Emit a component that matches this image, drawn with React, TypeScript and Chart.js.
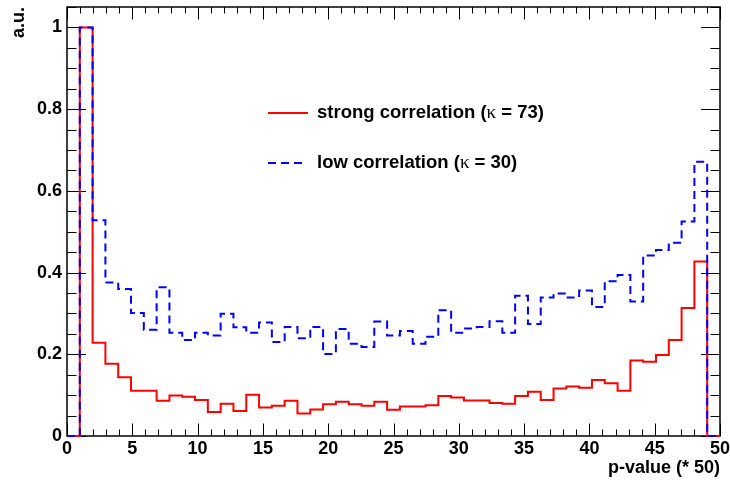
import { useEffect, useRef } from 'react';
import { Chart, registerables } from 'chart.js';

Chart.register(...registerables);

// ---- data ----
const X_MIN = 0;
const X_MAX = 50;
const N_BINS = 51;
const Y_MIN = 0;
const Y_MAX = 1.05;

// bin contents, bins 0..50 of width 50/51
const strongCorrelation = [
  0, 1.0, 0.228, 0.177, 0.144, 0.111, 0.111, 0.086, 0.099, 0.096,
  0.088, 0.059, 0.079, 0.061, 0.101, 0.070, 0.074, 0.086, 0.055, 0.065,
  0.078, 0.084, 0.078, 0.074, 0.084, 0.064, 0.072, 0.072, 0.075, 0.098,
  0.094, 0.087, 0.087, 0.081, 0.079, 0.098, 0.108, 0.088, 0.116, 0.121,
  0.118, 0.137, 0.129, 0.111, 0.185, 0.182, 0.198, 0.235, 0.313, 0.427,
  0,
];

const lowCorrelation = [
  0, 1.0, 0.528, 0.376, 0.360, 0.301, 0.260, 0.364, 0.253, 0.235,
  0.253, 0.246, 0.299, 0.266, 0.253, 0.278, 0.230, 0.267, 0.239, 0.267,
  0.201, 0.262, 0.226, 0.218, 0.280, 0.246, 0.257, 0.226, 0.243, 0.308,
  0.253, 0.263, 0.267, 0.281, 0.253, 0.343, 0.274, 0.339, 0.349, 0.339,
  0.356, 0.316, 0.379, 0.394, 0.329, 0.442, 0.455, 0.473, 0.525, 0.671,
  0,
];

const xMajorTicks = [0, 5, 10, 15, 20, 25, 30, 35, 40, 45, 50];
const yMajorTicks = [0, 0.2, 0.4, 0.6, 0.8, 1];
const X_MINOR_STEP = 1;
const Y_MINOR_STEP = 0.05;

const strongLabel = ['strong correlation (', '\u03ba', ' = 73)'];
const lowLabel = ['low correlation (', '\u03ba', ' = 30)'];
const xTitle = 'p-value (* 50)';
const yTitle = 'a.u.';

// ---- styles ----
const FAMILY = "'Liberation Sans', Arial, Helvetica, sans-serif";
const LABEL_FONT = { family: FAMILY, size: 18, weight: 'bold' as const };
const LEGEND_FONT = `bold 18.5px ${FAMILY}`;
const KAPPA_FONT = `19px 'Liberation Serif', 'DejaVu Serif', serif`;
const RED = '#ff0000';
const BLUE = '#0000ff';

function toSteps(values: number[]) {
  const w = (X_MAX - X_MIN) / N_BINS;
  const pts = values.map((v, i) => ({ x: X_MIN + i * w, y: v }));
  pts.push({ x: X_MAX, y: values[values.length - 1] });
  return pts;
}

const fmt = (v: number | string) => String(Number(Number(v).toFixed(2)));

const framePlugin = {
  id: 'rootFrame',
  beforeDatasetsDraw(chart: any) {
    const { ctx, chartArea } = chart;
    const { left, right, top, bottom } = chartArea;
    const xs = chart.scales.x;
    const ys = chart.scales.y;
    ctx.save();
    ctx.strokeStyle = '#000';
    ctx.lineWidth = 1;
    ctx.beginPath();
    // x ticks (bottom & top)
    const nx = Math.round((X_MAX - X_MIN) / X_MINOR_STEP);
    for (let i = 0; i <= nx; i++) {
      const v = X_MIN + i * X_MINOR_STEP;
      const major = xMajorTicks.some((t) => Math.abs(t - v) < 1e-9);
      const len = major ? 12.5 : 6.5;
      const px = Math.round(xs.getPixelForValue(v)) + 0.5;
      ctx.moveTo(px, bottom);
      ctx.lineTo(px, bottom - len);
      ctx.moveTo(px, top);
      ctx.lineTo(px, top + len);
    }
    // y ticks (left & right)
    const ny = Math.floor((Y_MAX - Y_MIN) / Y_MINOR_STEP + 1e-9);
    for (let i = 0; i <= ny; i++) {
      const v = Y_MIN + i * Y_MINOR_STEP;
      const major = yMajorTicks.some((t) => Math.abs(t - v) < 1e-9);
      const len = major ? 19 : 9.5;
      const py = Math.round(ys.getPixelForValue(v)) + 0.5;
      ctx.moveTo(left, py);
      ctx.lineTo(left + len, py);
      ctx.moveTo(right, py);
      ctx.lineTo(right - len, py);
    }
    ctx.stroke();
    ctx.lineWidth = 1.5;
    ctx.strokeRect(left, top, right - left, bottom - top);
    ctx.restore();
  },
};

function drawRich(ctx: CanvasRenderingContext2D, x: number, y: number, parts: string[]) {
  let cx = x;
  parts.forEach((p, i) => {
    ctx.font = i === 1 ? KAPPA_FONT : LEGEND_FONT;
    ctx.fillText(p, cx, y);
    cx += ctx.measureText(p).width;
  });
}

const legendPlugin = {
  id: 'rootLegend',
  afterDatasetsDraw(chart: any) {
    const { ctx, chartArea } = chart;
    const x0 = chartArea.left + 201;
    const y0 = chartArea.top + 106;
    const rowGap = 50;
    ctx.save();
    ctx.lineWidth = 2;
    ctx.strokeStyle = RED;
    ctx.beginPath();
    ctx.moveTo(x0, y0);
    ctx.lineTo(x0 + 40, y0);
    ctx.stroke();
    ctx.strokeStyle = BLUE;
    ctx.setLineDash([8, 5]);
    ctx.beginPath();
    ctx.moveTo(x0, y0 + rowGap);
    ctx.lineTo(x0 + 36, y0 + rowGap);
    ctx.stroke();
    ctx.setLineDash([]);
    ctx.fillStyle = '#000';
    ctx.textBaseline = 'middle';
    ctx.textAlign = 'left';
    drawRich(ctx, x0 + 49, y0, strongLabel);
    drawRich(ctx, x0 + 49, y0 + rowGap, lowLabel);
    ctx.restore();
  },
};

export default function App() {
  const ref = useRef<HTMLCanvasElement | null>(null);

  useEffect(() => {
    if (!ref.current) return;
    const chart = new Chart(ref.current, {
      type: 'line',
      data: {
        datasets: [
          {
            label: lowLabel.join(''),
            data: toSteps(lowCorrelation),
            stepped: 'before',
            borderColor: BLUE,
            borderWidth: 2,
            borderDash: [8, 5],
            pointRadius: 0,
            fill: false,
            clip: 4,
            order: 0,
          },
          {
            label: strongLabel.join(''),
            data: toSteps(strongCorrelation),
            stepped: 'before',
            borderColor: RED,
            borderWidth: 2,
            pointRadius: 0,
            fill: false,
            clip: 4,
            order: 1,
          },
        ],
      },
      options: {
        animation: false,
        responsive: false,
        devicePixelRatio: 1,
        layout: { padding: { top: 7, right: 10, left: 0, bottom: 0 } },
        plugins: { legend: { display: false }, tooltip: { enabled: false } },
        scales: {
          x: {
            type: 'linear',
            min: X_MIN,
            max: X_MAX,
            grid: { display: false, drawTicks: false },
            border: { display: false },
            afterBuildTicks: (s: any) => {
              s.ticks = xMajorTicks.map((v) => ({ value: v }));
            },
            afterFit: (s: any) => {
              s.height = 45;
              s.paddingLeft = 0;
              s.paddingRight = 0;
            },
            ticks: {
              padding: 2,
              color: '#000',
              font: LABEL_FONT,
              maxRotation: 0,
              autoSkip: false,
              callback: fmt,
            },
            title: {
              display: true,
              text: xTitle,
              align: 'end',
              color: '#000',
              font: LABEL_FONT,
              padding: { top: 0, bottom: 2 },
            },
          },
          y: {
            type: 'linear',
            min: Y_MIN,
            max: Y_MAX,
            grid: { display: false, drawTicks: false },
            border: { display: false },
            afterBuildTicks: (s: any) => {
              s.ticks = yMajorTicks.map((v) => ({ value: v }));
            },
            afterFit: (s: any) => {
              s.width = 67;
              s.paddingTop = 0;
              s.paddingBottom = 0;
            },
            ticks: {
              padding: 5,
              color: '#000',
              font: LABEL_FONT,
              autoSkip: false,
              callback: fmt,
            },
            title: {
              display: true,
              text: yTitle,
              align: 'end',
              color: '#000',
              font: LABEL_FONT,
              padding: { top: 8, bottom: 0 },
            },
          },
        },
      },
      plugins: [framePlugin, legendPlugin],
    } as any);
    return () => chart.destroy();
  }, []);

  return (
    <div style={{ position: 'fixed', left: 0, top: 0, width: 730, height: 481, background: '#fff' }}>
      <canvas ref={ref} width={730} height={481} style={{ display: 'block' }} />
    </div>
  );
}
